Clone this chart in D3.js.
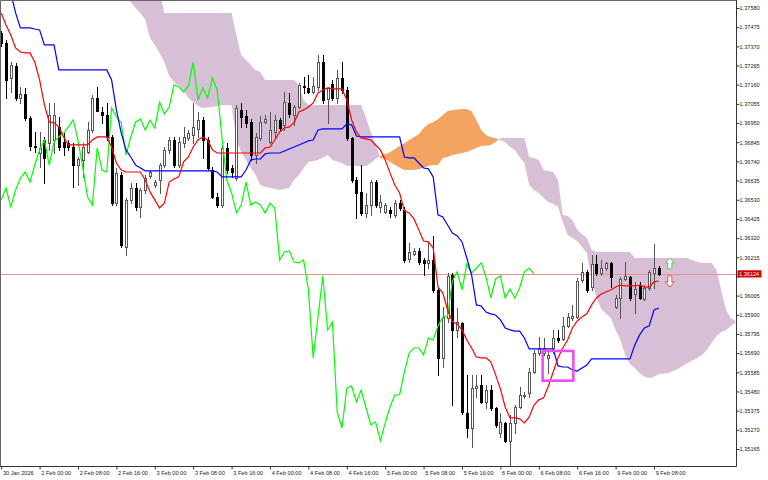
<!DOCTYPE html>
<html><head><meta charset="utf-8">
<script src="https://cdn.jsdelivr.net/npm/d3@7/dist/d3.min.js"></script>
<style>html,body{margin:0;padding:0;background:#fff;}svg{display:block;}</style>
</head><body>
<svg id="chart" width="768" height="480"></svg>
<script>
// ---- DATA (H1 candles, 30 Jan 16:00 .. 9 Feb 09:00) ----
const openP = [1.37443,1.37389,1.37197,1.37262,1.37087,1.37109,1.36978,1.36824,1.36786,1.36857,1.36841,1.36857,1.36929,1.36846,1.36841,1.36819,1.36720,1.36748,1.36792,1.36912,1.37087,1.37011,1.36994,1.36874,1.36512,1.36666,1.36272,1.36529,1.36595,1.36491,1.36584,1.36660,1.36611,1.36638,1.36720,1.36803,1.36857,1.36720,1.36841,1.36868,1.36885,1.36918,1.36967,1.36857,1.36693,1.36545,1.36501,1.36814,1.36704,1.36649,1.37022,1.36989,1.36956,1.36775,1.36868,1.36956,1.36846,1.36901,1.36967,1.36940,1.37060,1.36994,1.37038,1.37153,1.37142,1.37120,1.37148,1.37284,1.37082,1.37164,1.37087,1.37197,1.37131,1.36868,1.36638,1.36573,1.36458,1.36501,1.36627,1.36491,1.36463,1.36474,1.36447,1.36512,1.36474,1.36206,1.36233,1.36250,1.36200,1.36184,1.36200,1.36036,1.35664,1.35883,1.36118,1.35817,1.35855,1.35362,1.35280,1.35499,1.35516,1.35423,1.35488,1.35391,1.35253,1.35308,1.35209,1.35308,1.35395,1.35461,1.35472,1.35587,1.35691,1.35691,1.35664,1.35718,1.35773,1.35768,1.35839,1.35883,1.35888,1.36091,1.36135,1.36052,1.36178,1.36129,1.36156,1.36184,1.35943,1.35992,1.36096,1.36107,1.36014,1.36063,1.35986,1.36047,1.36129,1.36156];
const highP = [1.37454,1.37405,1.37284,1.37279,1.37148,1.37142,1.36989,1.36901,1.36901,1.36874,1.37060,1.37060,1.36983,1.36896,1.36857,1.36841,1.36764,1.36841,1.36956,1.37104,1.37148,1.37038,1.37060,1.36885,1.36704,1.36682,1.36540,1.36622,1.36622,1.36595,1.36666,1.36693,1.36638,1.36731,1.36819,1.36874,1.36874,1.36874,1.36929,1.36912,1.37060,1.37011,1.36983,1.36874,1.36710,1.36567,1.36830,1.36841,1.36720,1.37049,1.37060,1.37022,1.36972,1.36896,1.36989,1.36994,1.37011,1.36994,1.36978,1.37120,1.37115,1.37049,1.37170,1.37202,1.37213,1.37202,1.37323,1.37323,1.37148,1.37186,1.37241,1.37284,1.37148,1.36874,1.36655,1.36720,1.36567,1.36638,1.36638,1.36556,1.36512,1.36491,1.36529,1.36529,1.36491,1.36293,1.36266,1.36266,1.36211,1.36293,1.36331,1.36047,1.35943,1.36129,1.36129,1.35937,1.35861,1.35571,1.35571,1.35571,1.35571,1.35516,1.35516,1.35395,1.35362,1.35313,1.35351,1.35406,1.35505,1.35477,1.35609,1.35707,1.35779,1.35773,1.35697,1.35817,1.35817,1.35888,1.35910,1.35954,1.36102,1.36184,1.36146,1.36228,1.36228,1.36200,1.36189,1.36189,1.36009,1.36107,1.36189,1.36113,1.36080,1.36080,1.36063,1.36146,1.36288,1.36167];
const lowP = [1.37372,1.37087,1.37120,1.37076,1.37060,1.36967,1.36803,1.36792,1.36710,1.36622,1.36803,1.36786,1.36803,1.36775,1.36803,1.36600,1.36611,1.36655,1.36786,1.36901,1.37060,1.36951,1.36857,1.36501,1.36501,1.36272,1.36228,1.36512,1.36474,1.36436,1.36567,1.36649,1.36600,1.36567,1.36710,1.36786,1.36710,1.36710,1.36819,1.36857,1.36841,1.36874,1.36759,1.36693,1.36540,1.36491,1.36491,1.36677,1.36655,1.36638,1.36929,1.36929,1.36748,1.36731,1.36857,1.36951,1.36841,1.36874,1.36912,1.36912,1.36983,1.36940,1.37033,1.37115,1.37115,1.37115,1.37131,1.37060,1.36951,1.37076,1.37060,1.37115,1.36857,1.36627,1.36430,1.36447,1.36436,1.36447,1.36491,1.36463,1.36458,1.36436,1.36436,1.36474,1.36189,1.36189,1.36228,1.36178,1.36118,1.36156,1.36025,1.35571,1.35614,1.35861,1.35406,1.35779,1.35357,1.35231,1.35176,1.35450,1.35417,1.35391,1.35379,1.35286,1.35231,1.35204,1.35083,1.35253,1.35391,1.35445,1.35450,1.35581,1.35680,1.35680,1.35581,1.35691,1.35751,1.35762,1.35833,1.35872,1.35883,1.36080,1.36025,1.36036,1.36118,1.36118,1.36146,1.36052,1.35937,1.35883,1.36091,1.35981,1.35910,1.35986,1.35981,1.36036,1.36047,1.36118];
const closeP = [1.37389,1.37186,1.37268,1.37087,1.37109,1.36978,1.36824,1.36822,1.36814,1.36759,1.36994,1.36994,1.36819,1.36819,1.36819,1.36720,1.36753,1.36819,1.36912,1.37087,1.37016,1.36994,1.36874,1.36512,1.36677,1.36282,1.36529,1.36595,1.36491,1.36584,1.36649,1.36682,1.36627,1.36720,1.36803,1.36857,1.36720,1.36846,1.36874,1.36896,1.36929,1.36967,1.36857,1.36704,1.36545,1.36501,1.36814,1.36693,1.36682,1.37033,1.36983,1.36951,1.36775,1.36874,1.36956,1.36972,1.36912,1.36967,1.36923,1.37065,1.37000,1.37038,1.37159,1.37148,1.37120,1.37153,1.37284,1.37076,1.37142,1.37087,1.37197,1.37131,1.36868,1.36638,1.36567,1.36458,1.36501,1.36627,1.36501,1.36518,1.36501,1.36458,1.36512,1.36485,1.36200,1.36244,1.36250,1.36189,1.36184,1.36200,1.36036,1.35664,1.35888,1.36113,1.35817,1.35861,1.35368,1.35280,1.35499,1.35510,1.35423,1.35488,1.35391,1.35297,1.35313,1.35209,1.35308,1.35395,1.35461,1.35463,1.35587,1.35691,1.35718,1.35718,1.35680,1.35773,1.35762,1.35839,1.35888,1.35894,1.36085,1.36135,1.36036,1.36178,1.36129,1.36156,1.36184,1.36107,1.35992,1.36096,1.36113,1.35992,1.36041,1.35992,1.36047,1.36135,1.36156,1.36124];

// Tenkan-sen (red) and Kijun-sen (blue), one value per bar
const tenkan = [1.37553,1.37487,1.37432,1.37361,1.37339,1.37334,1.37334,1.37284,1.37186,1.37049,1.36956,1.36951,1.36929,1.36874,1.36830,1.36830,1.36830,1.36830,1.36830,1.36857,1.36874,1.36874,1.36874,1.36819,1.36731,1.36693,1.36682,1.36682,1.36682,1.36682,1.36638,1.36573,1.36529,1.36485,1.36512,1.36627,1.36644,1.36655,1.36737,1.36764,1.36819,1.36857,1.36874,1.36857,1.36803,1.36786,1.36786,1.36786,1.36786,1.36786,1.36786,1.36786,1.36786,1.36786,1.36786,1.36814,1.36819,1.36857,1.36901,1.36923,1.36929,1.36951,1.37011,1.37022,1.37038,1.37060,1.37115,1.37131,1.37142,1.37137,1.37137,1.37137,1.37076,1.36967,1.36901,1.36868,1.36863,1.36857,1.36830,1.36803,1.36748,1.36677,1.36611,1.36567,1.36469,1.36458,1.36425,1.36365,1.36304,1.36299,1.36266,1.36052,1.36020,1.35926,1.35861,1.35850,1.35817,1.35762,1.35718,1.35669,1.35664,1.35664,1.35642,1.35571,1.35494,1.35395,1.35335,1.35335,1.35330,1.35308,1.35341,1.35406,1.35434,1.35445,1.35510,1.35587,1.35664,1.35718,1.35762,1.35828,1.35866,1.35888,1.35905,1.35954,1.35992,1.36014,1.36025,1.36036,1.36052,1.36063,1.36058,1.36058,1.36058,1.36063,1.36052,1.36052,1.36080,1.36085];
const kijun = [1.37870,1.37788,1.37662,1.37553,1.37471,1.37471,1.37471,1.37465,1.37460,1.37378,1.37378,1.37378,1.37241,1.37241,1.37241,1.37241,1.37241,1.37241,1.37241,1.37241,1.37241,1.37241,1.37241,1.37186,1.37022,1.36896,1.36803,1.36764,1.36720,1.36704,1.36688,1.36688,1.36688,1.36688,1.36688,1.36688,1.36688,1.36688,1.36688,1.36688,1.36688,1.36688,1.36688,1.36688,1.36688,1.36682,1.36655,1.36655,1.36655,1.36655,1.36655,1.36693,1.36748,1.36753,1.36753,1.36781,1.36786,1.36786,1.36786,1.36797,1.36808,1.36819,1.36830,1.36841,1.36852,1.36857,1.36912,1.36918,1.36918,1.36918,1.36918,1.36918,1.36945,1.36940,1.36879,1.36874,1.36874,1.36874,1.36874,1.36874,1.36874,1.36874,1.36874,1.36874,1.36764,1.36759,1.36759,1.36731,1.36704,1.36699,1.36655,1.36447,1.36436,1.36392,1.36348,1.36332,1.36299,1.36211,1.36118,1.35954,1.35948,1.35915,1.35905,1.35899,1.35872,1.35828,1.35817,1.35811,1.35811,1.35773,1.35713,1.35713,1.35713,1.35713,1.35713,1.35713,1.35620,1.35614,1.35614,1.35598,1.35592,1.35609,1.35625,1.35658,1.35658,1.35658,1.35658,1.35658,1.35658,1.35658,1.35658,1.35658,1.35735,1.35790,1.35828,1.35839,1.35926,1.35937];

// Senkou Span A / B (cloud, already shifted 26 bars forward), by bar index
const cloudIdx = [26,27,28,29,30,31,32,33,34,35,36,37,38,39,40,41,42,44,46,48,49,50,51,52,53,54,55,56,58,60,61,62,63,64,66,68,69,71,72,75,76,77,78,79,80,81,82,84,86,87,88,89,90,91,92,93,94,96,97,98,99,100,101,102,103,104,105,106,107,108,109,110,111,112,113,114,115,116,117,118,119,120,121,122,123,124,125,126,127,128,129,130,131,132,133,134,135,136,137,139,141,143,145,146,147,148,149,150,151,152,153];
const spanA = [1.37651,1.37613,1.37580,1.37553,1.37515,1.37416,1.37378,1.37334,1.37284,1.37208,1.37175,1.37153,1.37126,1.37087,1.37065,1.37043,1.37033,1.37038,1.37049,1.37049,1.36857,1.36792,1.36748,1.36704,1.36666,1.36611,1.36600,1.36595,1.36584,1.36595,1.36638,1.36666,1.36704,1.36737,1.36748,1.36775,1.36748,1.36731,1.36715,1.36715,1.36715,1.36731,1.36753,1.36770,1.36781,1.36792,1.36808,1.36841,1.36874,1.36890,1.36923,1.36945,1.36956,1.36972,1.36994,1.37016,1.37022,1.37027,1.37027,1.37016,1.36967,1.36912,1.36885,1.36874,1.36868,1.36857,1.36846,1.36819,1.36803,1.36764,1.36731,1.36611,1.36584,1.36567,1.36540,1.36518,1.36507,1.36491,1.36408,1.36337,1.36321,1.36304,1.36271,1.36239,1.36091,1.35998,1.35932,1.35905,1.35883,1.35817,1.35762,1.35680,1.35631,1.35609,1.35581,1.35560,1.35554,1.35560,1.35576,1.35581,1.35603,1.35636,1.35664,1.35680,1.35707,1.35746,1.35784,1.35806,1.35817,1.35839,1.35855];
const spanB = [1.37788,1.37761,1.37734,1.37706,1.37690,1.37679,1.37679,1.37668,1.37553,1.37553,1.37553,1.37553,1.37553,1.37553,1.37553,1.37553,1.37553,1.37553,1.37553,1.37553,1.37432,1.37323,1.37295,1.37268,1.37241,1.37230,1.37186,1.37186,1.37186,1.37186,1.37186,1.37159,1.37076,1.37049,1.37049,1.37049,1.37049,1.37049,1.37049,1.37049,1.36978,1.36901,1.36830,1.36759,1.36753,1.36737,1.36720,1.36693,1.36693,1.36699,1.36704,1.36715,1.36720,1.36720,1.36759,1.36764,1.36775,1.36786,1.36792,1.36803,1.36814,1.36825,1.36825,1.36830,1.36846,1.36868,1.36868,1.36868,1.36868,1.36868,1.36868,1.36764,1.36759,1.36748,1.36693,1.36688,1.36682,1.36638,1.36447,1.36441,1.36419,1.36365,1.36343,1.36321,1.36255,1.36244,1.36244,1.36244,1.36244,1.36244,1.36244,1.36244,1.36244,1.36211,1.36211,1.36211,1.36211,1.36211,1.36211,1.36211,1.36211,1.36211,1.36189,1.36184,1.36184,1.36184,1.36146,1.36036,1.35926,1.35883,1.35866];

const chikouShift = 26;
const lastPrice = 1.36124;

const yTicks = [1.37580,1.37475,1.37370,1.37265,1.37160,1.37055,1.36950,1.36845,1.36740,1.36635,1.36530,1.36425,1.36320,1.36215,1.36110,1.36005,1.35900,1.35795,1.35690,1.35585,1.35480,1.35375,1.35270,1.35165];
const yTickHidden = [1.36110]; // covered by the last-price label in the reference
const xTickIdx = [0,8,16,24,32,40,48,56,64,72,80,88,96,104,112,120,128,136];
const xTickLabels = ["30 Jan 2026","2 Feb 00:00","2 Feb 08:00","2 Feb 16:00","3 Feb 00:00","3 Feb 08:00","3 Feb 16:00","4 Feb 00:00","4 Feb 08:00","4 Feb 16:00","5 Feb 00:00","5 Feb 08:00","5 Feb 16:00","6 Feb 00:00","6 Feb 08:00","6 Feb 16:00","9 Feb 00:00","9 Feb 08:00"];

// annotations (data units)
const markBox = {i0:112.8, i1:119.2, p0:1.35702, p1:1.35539};
const arrowUp = {i:139.3, top:1.36211, bottom:1.36151};
const arrowDown = {i:139.3, top:1.36113, bottom:1.36052};

// ---- DRAW ----
const W = 768, H = 480, plotR = 736, plotB = 466;
const svg = d3.select("#chart");
const FONT = "'Liberation Sans', Arial, sans-serif";

const x = d3.scaleLinear().domain([0, 153]).range([1.2, 1.2 + 4.8 * 153]);
const y = d3.scaleLinear().domain([1.35165, 1.37580]).range([449, 8]);

svg.append("rect").attr("width", W).attr("height", H).attr("fill", "#fff");
const defs = svg.append("defs");
defs.append("clipPath").attr("id", "plotClip").append("rect")
  .attr("x", 1).attr("y", 1).attr("width", plotR - 1).attr("height", plotB - 1);

const plot = svg.append("g").attr("clip-path", "url(#plotClip)");

// cloud
const cloud = cloudIdx.map((i, k) => ({i, a: spanA[k], b: spanB[k]}));
defs.append("clipPath").attr("id", "aboveA").append("path")
  .attr("d", d3.area().x(d => x(d.i)).y0(-50).y1(d => y(d.a))(cloud));
defs.append("clipPath").attr("id", "belowA").append("path")
  .attr("d", d3.area().x(d => x(d.i)).y0(H + 50).y1(d => y(d.a))(cloud));
const between = d3.area().x(d => x(d.i)).y0(d => y(d.a)).y1(d => y(d.b));
plot.append("path").attr("d", between(cloud)).attr("fill", "#d8bfd8").attr("clip-path", "url(#aboveA)");
plot.append("path").attr("d", between(cloud)).attr("fill", "#f4a460").attr("clip-path", "url(#belowA)");

// last price line
plot.append("line").attr("x1", 0).attr("x2", plotR)
  .attr("y1", Math.round(y(lastPrice)) + 0.5).attr("y2", Math.round(y(lastPrice)) + 0.5)
  .attr("stroke", "#e89090").attr("stroke-width", 1);

// candles
const candles = openP.map((o, i) => ({i, o, h: highP[i], l: lowP[i], c: closeP[i]}));
const cg = plot.append("g");
candles.forEach(d => {
  const cx = Math.round(x(d.i));
  const bull = d.c >= d.o;
  const col = bull ? "#555" : "#000";
  cg.append("line").attr("x1", cx + 0.5).attr("x2", cx + 0.5)
    .attr("y1", Math.round(y(d.h))).attr("y2", Math.round(y(d.l)) + 1)
    .attr("stroke", col).attr("stroke-width", 1);
  const yt = Math.round(y(Math.max(d.o, d.c)));
  const yb = Math.round(y(Math.min(d.o, d.c)));
  const hgt = Math.max(1, yb - yt);
  if (bull) {
    cg.append("rect").attr("x", cx - 0.5).attr("y", yt + 0.5).attr("width", 2).attr("height", hgt)
      .attr("fill", "#fff").attr("stroke", "#555").attr("stroke-width", 1);
  } else {
    cg.append("rect").attr("x", cx - 1).attr("y", yt).attr("width", 3).attr("height", hgt + 1)
      .attr("fill", "#000");
  }
});

// ichimoku lines
const lineGen = d3.line().x(d => x(d.i)).y(d => y(d.v));
const chikou = closeP.slice(chikouShift).map((v, k) => ({i: k, v}));
plot.append("path").attr("d", lineGen(chikou)).attr("fill", "none").attr("stroke", "#00ff00").attr("stroke-width", 1.2);
plot.append("path").attr("d", lineGen(kijun.map((v, i) => ({i, v})))).attr("fill", "none").attr("stroke", "#0000ff").attr("stroke-width", 1.2);
plot.append("path").attr("d", lineGen(tenkan.map((v, i) => ({i, v})))).attr("fill", "none").attr("stroke", "#ff0000").attr("stroke-width", 1.2);

// annotation rectangle
plot.append("rect")
  .attr("x", x(markBox.i0)).attr("y", y(markBox.p0))
  .attr("width", x(markBox.i1) - x(markBox.i0)).attr("height", y(markBox.p1) - y(markBox.p0))
  .attr("fill", "none").attr("stroke", "#f04cf0").attr("stroke-width", 2.6);

// arrows
function upArrow(cx, t, b) {
  const hh = (b - t) * 0.45;
  return `M${cx},${t} L${cx + 4.5},${t + hh} L${cx + 2},${t + hh} L${cx + 2},${b} L${cx - 2},${b} L${cx - 2},${t + hh} L${cx - 4.5},${t + hh} Z`;
}
function downArrow(cx, t, b) {
  const hh = (b - t) * 0.45;
  return `M${cx - 2},${t} L${cx + 2},${t} L${cx + 2},${b - hh} L${cx + 4.5},${b - hh} L${cx},${b} L${cx - 4.5},${b - hh} L${cx - 2},${b - hh} Z`;
}
plot.append("path").attr("d", upArrow(x(arrowUp.i), y(arrowUp.top), y(arrowUp.bottom)))
  .attr("fill", "#fff").attr("stroke", "#55cc55").attr("stroke-width", 1);
plot.append("path").attr("d", downArrow(x(arrowDown.i), y(arrowDown.top), y(arrowDown.bottom)))
  .attr("fill", "#fff").attr("stroke", "#f05050").attr("stroke-width", 1);

// frame
svg.append("path").attr("d", `M0.5,${plotB + 0.5} L0.5,0.5 L${plotR + 0.5},0.5`)
  .attr("fill", "none").attr("stroke", "#666").attr("stroke-width", 1);
svg.append("path").attr("d", `M0,${plotB + 0.5} L${plotR + 0.5},${plotB + 0.5} L${plotR + 0.5},0`)
  .attr("fill", "none").attr("stroke", "#333").attr("stroke-width", 1);
svg.append("line").attr("x1", 510.5).attr("x2", 510.5).attr("y1", plotB - 4).attr("y2", plotB)
  .attr("stroke", "#555");

// y axis
const fmt5 = d3.format(".5f");
const yAxis = svg.append("g").attr("transform", `translate(${plotR + 0.5},0)`)
  .call(d3.axisRight(y).tickValues(yTicks).tickSize(3).tickSizeOuter(0)
    .tickFormat(d => yTickHidden.includes(d) ? "" : fmt5(d)));
yAxis.select(".domain").remove();
yAxis.selectAll("line").attr("stroke", "#333");
yAxis.selectAll("text").attr("x", 3).attr("font-family", FONT).attr("font-size", 5.6).attr("fill", "#222");

// x axis
const xAxis = svg.append("g").attr("transform", `translate(0,${plotB + 0.5})`)
  .call(d3.axisBottom(x).tickValues(xTickIdx).tickSize(3).tickSizeOuter(0).tickFormat((d, k) => xTickLabels[k]));
xAxis.select(".domain").remove();
xAxis.selectAll("line").attr("stroke", "#333");
xAxis.selectAll("text").attr("text-anchor", "start").attr("dx", "1.2").attr("y", 4.5)
  .attr("font-family", FONT).attr("font-size", 5.6).attr("fill", "#222");

// last price label
const ly = y(lastPrice);
svg.append("rect").attr("x", plotR + 1.5).attr("y", ly - 3.6).attr("width", 24).attr("height", 7.2).attr("fill", "#d40000");
svg.append("text").attr("x", plotR + 3).attr("y", ly + 2).attr("font-family", FONT).attr("font-size", 5.6)
  .attr("fill", "#fff").text(lastPrice.toFixed(5));
</script>
</body></html>
